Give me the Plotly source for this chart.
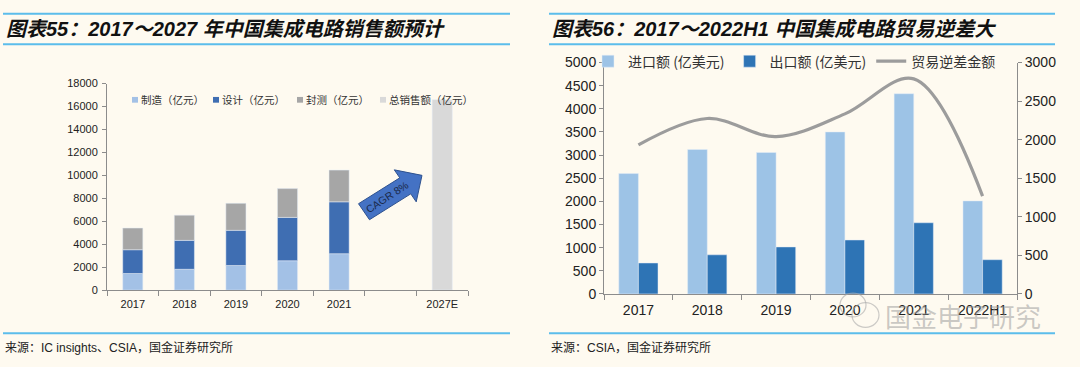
import math
import numpy as np
import plotly.graph_objects as go

# ---------------- data ----------------
years_left = ["2017", "2018", "2019", "2020", "2021", " ", "2027E"]
hist_years = ["2017", "2018", "2019", "2020", "2021"]
manufacturing = [1448, 1818, 2149, 2560, 3176]      # 制造（亿元）
design = [2073, 2519, 3064, 3778, 4519]             # 设计（亿元）
packaging = [1890, 2194, 2350, 2510, 2763]          # 封测（亿元）
forecast_years = ["2027E"]
total_sales = [16600]                               # 总销售额（亿元）

years_right = ["2017", "2018", "2019", "2020", "2021", "2022H1"]
imports = [2601, 3121, 3056, 3500, 4326, 2010]      # 进口额 (亿美元)
exports = [669, 846, 1016, 1166, 1538, 740]         # 出口额 (亿美元)
deficit = [1932, 2274, 2040, 2334, 2788, 1268]      # 贸易逆差金额

left_names = ["制造（亿元）", "设计（亿元）", "封测（亿元）", "总销售额（亿元）"]
left_colors = ["#A3C1E6", "#3F6EB2", "#A6A6A6", "#D9D9D9"]

W, H = 1080, 367
BG = "#FEFAF0"
RULE = "#5BBDEB"
AXIS = "#8C8C8C"
CJK = "Noto Sans CJK SC"
LAT = "Liberation Sans, Arial, Noto Sans CJK SC"


def px(x):
    return x / W


def py(y):
    return 1 - y / H


fig = go.Figure()

# ---------------- left chart: stacked bars ----------------
base_design = np.array(manufacturing)
base_pack = base_design + np.array(design)
bw_left = 0.39
fig.add_trace(go.Bar(x=hist_years, y=manufacturing, name=left_names[0],
                     marker_color=left_colors[0], width=bw_left,
                     xaxis="x", yaxis="y", showlegend=False))
fig.add_trace(go.Bar(x=hist_years, y=design, base=base_design.tolist(), name=left_names[1],
                     marker_color=left_colors[1], width=bw_left,
                     xaxis="x", yaxis="y", showlegend=False))
fig.add_trace(go.Bar(x=hist_years, y=packaging, base=base_pack.tolist(), name=left_names[2],
                     marker_color=left_colors[2], width=bw_left,
                     xaxis="x", yaxis="y", showlegend=False))
fig.add_trace(go.Bar(x=forecast_years, y=total_sales, name=left_names[3],
                     marker_color=left_colors[3], width=bw_left,
                     xaxis="x", yaxis="y", showlegend=False))

# ---------------- right chart: grouped bars + line ----------------
bw_right = 0.285
fig.add_trace(go.Bar(x=years_right, y=imports, name="进口额 (亿美元)",
                     marker_color="#9DC3E6", width=bw_right, offset=-bw_right,
                     xaxis="x2", yaxis="y2"))
fig.add_trace(go.Bar(x=years_right, y=exports, name="出口额 (亿美元)",
                     marker_color="#2E74B5", width=bw_right, offset=0,
                     xaxis="x2", yaxis="y2"))
fig.add_trace(go.Scatter(x=years_right, y=deficit, name="贸易逆差金额", mode="lines",
                         line=dict(color="#9C9C9C", width=3.2, shape="spline", smoothing=1.0),
                         xaxis="x2", yaxis="y3"))

tick_l = dict(family=LAT, size=11, color="#222222")
tick_r = dict(family=LAT, size=14, color="#222222")

fig.update_layout(
    width=W, height=H,
    margin=dict(l=0, r=0, t=0, b=0),
    paper_bgcolor=BG, plot_bgcolor=BG,
    barmode="overlay",
    showlegend=True,
    xaxis=dict(domain=[px(107), px(468)], anchor="y", type="category",
               categoryorder="array", categoryarray=years_left,
               range=[-0.5, len(years_left) - 0.5],
               showline=True, linecolor=AXIS, linewidth=1,
               ticks="outside", tickson="boundaries", ticklen=5, tickcolor=AXIS,
               showgrid=False, tickfont=tick_l, ticklabelstandoff=4),
    yaxis=dict(domain=[py(295), py(79)], anchor="x", range=[0, 18000], dtick=2000,
               tickformat="d",
               showline=True, linecolor=AXIS, linewidth=1,
               ticks="outside", ticklen=4, tickcolor=AXIS,
               showgrid=False, zeroline=False, tickfont=tick_l, ticklabelstandoff=2),
    xaxis2=dict(domain=[px(604), px(1017)], anchor="y2", type="category",
                categoryorder="array", categoryarray=years_right,
                range=[-0.5, len(years_right) - 0.5],
                showline=True, linecolor=AXIS, linewidth=1,
                ticks="outside", tickson="boundaries", ticklen=5, tickcolor=AXIS,
                showgrid=False, tickfont=tick_r, ticklabelstandoff=3),
    yaxis2=dict(domain=[py(299), py(57)], anchor="x2", range=[0, 5000], dtick=500,
                tickformat="d",
                showline=True, linecolor=AXIS, linewidth=1,
                ticks="outside", ticklen=4, tickcolor=AXIS,
                showgrid=False, zeroline=False, tickfont=tick_r),
    yaxis3=dict(overlaying="y2", side="right", anchor="x2", range=[0, 3000], dtick=500,
                tickformat="d",
                showline=True, linecolor=AXIS, linewidth=1,
                ticks="outside", ticklen=4, tickcolor=AXIS,
                showgrid=False, zeroline=False, tickfont=tick_r),
    legend=dict(orientation="h", x=px(588), y=py(56), xanchor="left", yanchor="middle",
                bgcolor="rgba(0,0,0,0)", font=dict(family=CJK, size=14, color="#333333"),
                itemwidth=30, traceorder="normal"),
)

ann = []
shapes = []

# ---------------- left legend (drawn) ----------------
leg_x = [132, 213, 297, 380]
for name, col, lx in zip(left_names, left_colors, leg_x):
    shapes.append(dict(type="rect", xref="paper", yref="paper",
                       x0=px(lx), x1=px(lx + 6), y0=py(99), y1=py(93),
                       fillcolor=col, line=dict(width=0)))
    ann.append(dict(text=name, x=px(lx + 7), y=py(96), xref="paper", yref="paper",
                    xanchor="left", yanchor="middle", showarrow=False,
                    font=dict(family=CJK, size=10.5, color="#333333")))

# ---------------- titles, rules, sources ----------------
for x0, x1 in [(3, 510), (549, 1055)]:
    for yy in (6, 38, 340):
        shapes.append(dict(type="line", xref="paper", yref="paper",
                           x0=px(x0), x1=px(x1), y0=py(yy), y1=py(yy),
                           line=dict(color=RULE, width=2)))

title_font = dict(family="Liberation Sans, Noto Sans CJK SC", size=20, color="#111111",
                  weight="bold", style="italic")
ann.append(dict(text="图表55：2017～2027 年中国集成电路销售额预计", x=px(4), y=py(22),
                xref="paper", yref="paper", xanchor="left", yanchor="middle",
                showarrow=False, font=title_font))
ann.append(dict(text="图表56：2017～2022H1 中国集成电路贸易逆差大", x=px(550), y=py(22),
                xref="paper", yref="paper", xanchor="left", yanchor="middle",
                showarrow=False, font=title_font))
src_font = dict(family="Liberation Sans, Noto Sans CJK SC", size=12, color="#222222")
ann.append(dict(text="来源：IC insights、CSIA，国金证券研究所", x=px(3), y=py(355),
                xref="paper", yref="paper", xanchor="left", yanchor="middle",
                showarrow=False, font=src_font))
ann.append(dict(text="来源：CSIA，国金证券研究所", x=px(549), y=py(355),
                xref="paper", yref="paper", xanchor="left", yanchor="middle",
                showarrow=False, font=src_font))

# ---------------- CAGR block arrow ----------------
tail = (364.0, 213.0)
tip = (422.0, 175.0)
dx, dy = tip[0] - tail[0], tip[1] - tail[1]
L = math.hypot(dx, dy)
ux, uy = dx / L, dy / L
nx, ny = -uy, ux
hb, hh, head_len = 10.0, 20.0, 20.0
bx, by = tip[0] - ux * head_len, tip[1] - uy * head_len
pts = [
    (tail[0] + nx * hb, tail[1] + ny * hb),
    (bx + nx * hb, by + ny * hb),
    (bx + nx * hh, by + ny * hh),
    tip,
    (bx - nx * hh, by - ny * hh),
    (bx - nx * hb, by - ny * hb),
    (tail[0] - nx * hb, tail[1] - ny * hb),
]
path = "M " + " L ".join(f"{px(a):.5f},{py(b):.5f}" for a, b in pts) + " Z"
shapes.append(dict(type="path", xref="paper", yref="paper", path=path,
                   fillcolor="#4472C4", line=dict(color="#2F528F", width=1)))
ang = math.degrees(math.atan2(dy, dx))
ann.append(dict(text="CAGR 8%", x=px(387), y=py(198), xref="paper", yref="paper",
                xanchor="center", yanchor="middle",
                showarrow=False, textangle=ang,
                font=dict(family="Liberation Sans", size=10.5, color="#1B2A4A")))

# ---------------- watermark ----------------
shapes.append(dict(type="circle", xref="paper", yref="paper",
                   x0=px(840), x1=px(866), y0=py(323), y1=py(298),
                   line=dict(color="rgba(170,170,170,0.6)", width=1.2)))
shapes.append(dict(type="circle", xref="paper", yref="paper",
                   x0=px(852), x1=px(879), y0=py(334), y1=py(308),
                   line=dict(color="rgba(170,170,170,0.6)", width=1.2)))
ann.append(dict(text="国金电子研究", x=px(963), y=py(321), xref="paper", yref="paper",
                xanchor="center", yanchor="middle",
                showarrow=False, font=dict(family=CJK, size=26, color="rgba(150,150,150,0.5)")))

fig.update_layout(annotations=ann, shapes=shapes)
fig.write_html(
    "out.html",
    config={"displayModeBar": False, "staticPlot": True},
    post_script=("document.documentElement.style.margin='0px';"
                 "document.body.style.margin='0px';"
                 "document.body.style.background='" + BG + "';"),
)
